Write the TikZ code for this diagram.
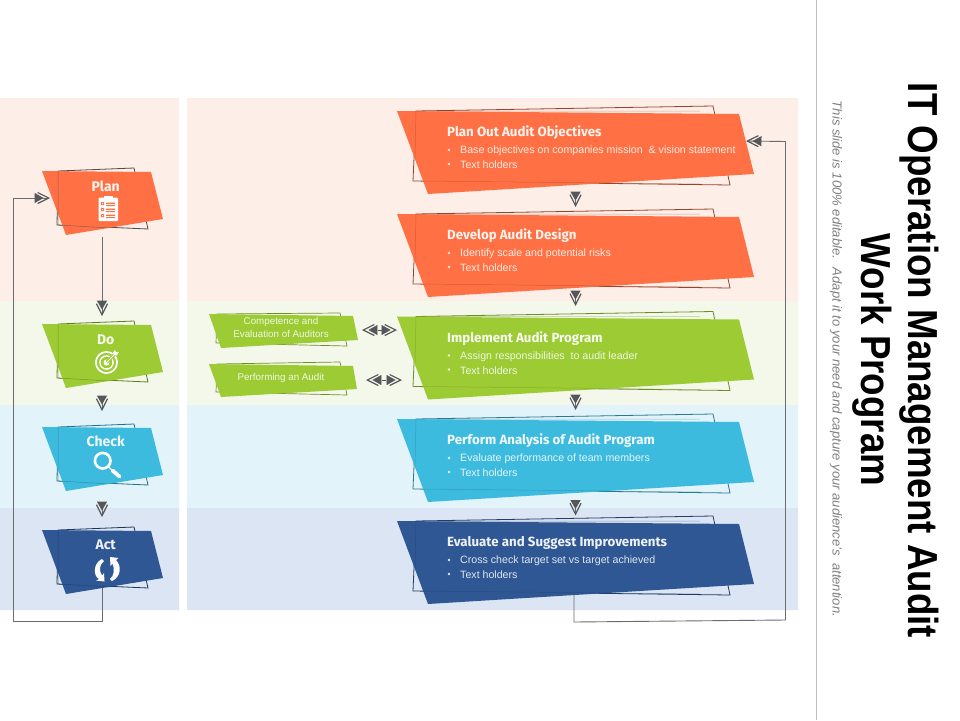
\documentclass[tikz,border=0pt]{standalone}
\usepackage{fontspec}
\setmainfont{Liberation Sans}
\newfontfamily\headf{Fira Sans}
\usetikzlibrary{arrows.meta}
\definecolor{cOr}{HTML}{FF7144}
\definecolor{cGr}{HTML}{9CCB34}
\definecolor{cBl}{HTML}{3DBBDF}
\definecolor{cNv}{HTML}{2F5794}
\definecolor{bgOr}{HTML}{FDEEE8}
\definecolor{bgGr}{HTML}{F4F8EA}
\definecolor{bgBl}{HTML}{E2F3FA}
\definecolor{bgNv}{HTML}{DCE5F3}
\definecolor{cTip}{HTML}{55575A}
\definecolor{cLine}{HTML}{6A6C70}
\tikzset{
  tiphead/.tip={Triangle[length=9pt,width=10pt,sep=-6.5pt,color=cTip,fill=cTip]Straight Barb[length=11pt,width=11pt,line width=1.2pt,color=cTip]},
  tipd/.style={-{tiphead},draw=cLine,line width=.9pt},
  twoway/.style={{Straight Barb[length=11pt,width=11pt,line width=1.2pt,color=cTip]Triangle[length=9pt,width=10pt,sep=-6.5pt,color=cTip,fill=cTip]}-{tiphead},draw=bgGr,line width=.5pt},
  midash/.style={draw=cTip,line width=1pt},
  headtxt/.style={anchor=west,text=white,inner sep=0pt,text opacity=.92,font=\headf\bfseries\fontsize{13.3}{15}\selectfont},
  bodytxt/.style={anchor=west,text=white,inner sep=0pt,text opacity=.85,font=\fontsize{10.63}{12}\selectfont},
  smalltxt/.style={align=center,text=white,inner sep=0pt,text opacity=.85,font=\fontsize{9.8}{13.5}\selectfont},
  steptxt/.style={text=white,inner sep=0pt,text opacity=.92,font=\headf\bfseries\fontsize{14}{16}\selectfont},
}
\newcommand{\bigshape}[6]{%
  \begin{scope}[shift={(0,#2)}]
    \draw[#4,line width=.8pt] (416,111) -- (713,106) -- (730,185) -- (413,181) -- cycle;
    \fill[#3] (397,111) -- (739,114) -- (754,174) -- (428,194) -- cycle;
    \draw[#4,line width=.5pt,opacity=.45] (415,159) -- (416,111) -- (700,111) (423,181) -- (700,184);
    \node[headtxt] (#1-h) at (447,133) {#5};
    \node[bodytxt] (#1-a) at (460,151) {#6};
    \node[bodytxt] (#1-b) at (460,165) {Text holders};
    \fill[white,opacity=.85] (449,150) circle (1.3) (449,164) circle (1.3);
  \end{scope}}
\newcommand{\stepshape}[6]{%
  \begin{scope}[shift={(0,#2)}]
    \draw[#4,line width=.8pt] (58,171) -- (134,168) -- (148,229) -- (57,225) -- cycle;
    \fill[#3] (42,171) -- (151,172) -- (163,219) -- (66,235) -- cycle;
    \draw[#4,line width=.5pt,opacity=.6] (58,171) -- (58,225) -- (110,228);
    \node[steptxt] (#1) at (105.7,#6) {#5};
  \end{scope}}
\begin{document}
\begin{tikzpicture}[x=1pt,y=-1pt]
\useasboundingbox (0,0) rectangle (960,720);
\fill[white] (0,0) rectangle (960,720);
% bands
\fill[bgOr] (0,98) rectangle (179,301) (187,98) rectangle (798,301);
\fill[bgGr] (0,301) rectangle (179,405) (187,301) rectangle (798,405);
\fill[bgBl] (0,405) rectangle (179,508) (187,405) rectangle (798,508);
\fill[bgNv] (0,508) rectangle (179,610) (187,508) rectangle (798,610);
% connector end points
\coordinate (planS) at (102,237);
\coordinate (doN) at (102,316);
\coordinate (doS) at (102,397);
\coordinate (chN) at (102,411);
\coordinate (chS) at (102,503);
\coordinate (acN) at (102,517);
\coordinate (acS) at (102,588);
\coordinate (planW) at (50,198);
\coordinate (evS) at (574,595);
\coordinate (p1E) at (746,141);
\coordinate (st1) at (575.5,193); \coordinate (en1) at (575.5,207);
\coordinate (st2) at (575.5,292); \coordinate (en2) at (575.5,306);
\coordinate (st3) at (575.5,396); \coordinate (en3) at (575.5,410);
\coordinate (st4) at (575.5,501.5); \coordinate (en4) at (575.5,515.5);
\coordinate (c1L) at (362,330); \coordinate (c1R) at (397,330);
\coordinate (c2L) at (366,380); \coordinate (c2R) at (402,380);
% big steps
\bigshape{obj}{0}{cOr}{cOr!60!black}{Plan Out Audit Objectives}{Base objectives on companies mission \ \& vision statement}
\bigshape{des}{103}{cOr}{cOr!60!black}{Develop Audit Design}{Identify scale and potential risks}
\bigshape{imp}{205.5}{cGr}{cGr!70!black}{Implement Audit Program}{Assign responsibilities \ to audit leader}
\bigshape{ana}{308}{cBl}{cBl!65!black}{Perform Analysis of Audit Program}{Evaluate performance of team members}
\bigshape{eva}{410}{cNv}{cNv!70!black}{Evaluate and Suggest Improvements}{Cross check target set vs target achieved}
% left steps
\stepshape{plan}{0}{cOr}{black!70}{Plan}{186}
\stepshape{do}{153}{cGr}{cGr!60!black}{Do}{187}
\stepshape{check}{256}{cBl}{cBl!60!black}{Check}{185.7}
\stepshape{act}{359}{cNv}{cNv!60!black}{Act}{186}
% small green shapes
\draw[cGr!70!black,line width=.7pt] (217,314) -- (340,313) -- (347,346) -- (216,343) -- cycle;
\fill[cGr] (209,314) -- (353,316) -- (358,340) -- (221,348) -- cycle;
\node[smalltxt] (comp) at (281,327.5) {Competence and\\Evaluation of Auditors};
\draw[cGr!70!black,line width=.7pt] (217,364) -- (340,362) -- (347,395) -- (216,392) -- cycle;
\fill[cGr] (209,364) -- (353,366) -- (357,389) -- (221,397) -- cycle;
\node[smalltxt] (perf) at (281,378) {Performing an Audit};
% connectors
\draw[tipd] (planS) -- (doN);
\draw[tipd] (doS) -- (chN);
\draw[tipd] (chS) -- (acN);
\draw[tipd] (acS) -- (102,621) -- (13,621) -- (13,198) -- (planW);
\draw[tipd] (evS) -- (574,622) -- (785.5,620) -- (785.5,141.5) -- (p1E);
\draw[tipd] (st1) -- (en1);
\draw[tipd] (st2) -- (en2);
\draw[tipd] (st3) -- (en3);
\draw[tipd] (st4) -- (en4);
\draw[twoway] (c1L) -- (c1R);
\draw[midash,shorten <=15.5pt,shorten >=15.5pt] (c1L) -- (c1R);
\draw[twoway] (c2L) -- (c2R);
\draw[midash,shorten <=16pt,shorten >=16pt] (c2L) -- (c2R);
% clipboard
\fill[white,rounded corners=1pt] (98.5,197.5) rectangle (118,221);
\fill[white] (104,195.5) rectangle (112.5,199);
\fill[cOr] (101,202) rectangle (104,205) (101,208) rectangle (104,211) (101,214) rectangle (104,217);
\fill[white] (102,203) rectangle (103,204) (102,209) rectangle (103,210) (102,215) rectangle (103,216);
\fill[cOr] (106,202.6) rectangle (115,203.8) (106,205) rectangle (115,206) (106,208.6) rectangle (115,209.8) (106,211) rectangle (115,212) (106,214.6) rectangle (115,215.8) (106,217) rectangle (115,218);
% target
\draw[white,line width=1.7pt] (106.5,362.5) circle (10.6);
\draw[white,line width=1.4pt] (106.5,362.5) circle (6.6);
\fill[white] (106.5,362.5) circle (3);
\fill[cGr] (105.5,361) -- (116,351) -- (118,353) -- (107.5,363.5) -- cycle;
\draw[white,line width=.9pt] (106.5,362.5) -- (115,354);
\fill[white] (113,352.5) -- (115,350) -- (116,352) -- (119,352.5) -- (116.5,355.5) -- (114,355) -- cycle;
% magnifier
\draw[white,line width=2.6pt] (102.7,460.7) circle (7.8);
\draw[white,line width=1.2pt] (108,466.5) -- (112,470);
\draw[white,line width=3.8pt,line cap=round] (112.5,470.5) -- (119.5,476.5);
% cycle arrows
\fill[white] (102,559) .. controls (93,563) and (93,576) .. (99,579) -- (96,580.5) -- (104.5,581.5) -- (104,573) -- (102,575.5) .. controls (99,571) and (99,565) .. (104,561) -- cycle;
\fill[white] (112,581) .. controls (121,577) and (122,566) .. (116,560) -- (118.5,558) -- (110,557) -- (110.5,566) -- (112.5,563.5) .. controls (115,569) and (114,576) .. (110,579) -- cycle;
% right panel
\draw[black!25,line width=.8pt] (816,0) -- (816,720);
\node[rotate=-90,inner sep=0pt,font=\bfseries\fontsize{42}{44}\selectfont,xscale=.875] (title1) at (919.5,360.5) {IT Operation Management Audit};
\node[rotate=-90,inner sep=0pt,font=\bfseries\fontsize{42}{44}\selectfont,xscale=.875] (title2) at (872.5,360) {Work Program};
\node[rotate=-90,inner sep=0pt,text=black!50,font=\itshape\fontsize{13.07}{14}\selectfont] (sub) at (836,359) {This slide is 100\% editable. \ Adapt it to your need and capture your audience's \ attention.};
\end{tikzpicture}
\end{document}
